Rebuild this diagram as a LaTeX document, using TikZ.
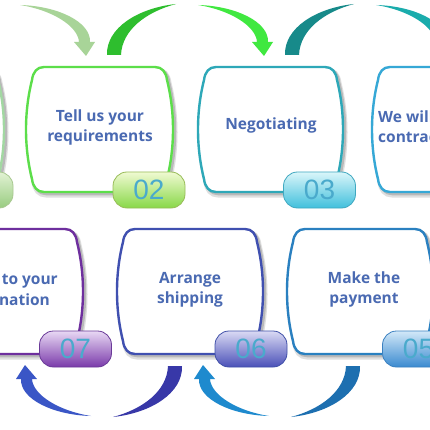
\documentclass[tikz,border=0pt]{standalone}
\usepackage{fontspec}
\setmainfont{Open Sans}
\newfontfamily\digfont{Liberation Sans}
\definecolor{cT}{HTML}{4A6AB2}
\definecolor{cD}{HTML}{4AAACC}
\definecolor{b01}{HTML}{A2D8A2}
\definecolor{b02}{HTML}{5CDE4A}
\definecolor{b03}{HTML}{2EA8B8}
\definecolor{b04}{HTML}{36A8D6}
\definecolor{b07}{HTML}{6E2F9E}
\definecolor{b06}{HTML}{4050B0}
\definecolor{b05}{HTML}{2A80C0}
\definecolor{a1}{HTML}{A8D498}
\definecolor{t2}{HTML}{2EBE2E}
\definecolor{a3}{HTML}{40E840}
\definecolor{t4}{HTML}{178A8A}
\definecolor{a5}{HTML}{1AACAC}
\definecolor{a9}{HTML}{1E8ACE}
\definecolor{t6}{HTML}{3838A8}
\definecolor{a7}{HTML}{3A56C6}
\definecolor{t8}{HTML}{1D6FB0}
\definecolor{g1d}{HTML}{A8C890}\definecolor{g1t}{HTML}{E2F2D4}\definecolor{g1b}{HTML}{98CC80}
\definecolor{g2d}{HTML}{98BC58}\definecolor{g2t}{HTML}{F0FAD2}\definecolor{g2b}{HTML}{88D848}
\definecolor{g3d}{HTML}{40A8C0}\definecolor{g3t}{HTML}{DAF6FA}\definecolor{g3b}{HTML}{40C0DC}
\definecolor{g7d}{HTML}{6A3A98}\definecolor{g7t}{HTML}{E8D8F4}\definecolor{g7b}{HTML}{7A3AAA}
\definecolor{g6d}{HTML}{4050A8}\definecolor{g6t}{HTML}{DADAF4}\definecolor{g6b}{HTML}{4A50B8}
\definecolor{g5d}{HTML}{3A80C0}\definecolor{g5t}{HTML}{D2E8F8}\definecolor{g5b}{HTML}{3A8AD0}
% barrel box: left L, top T, right R, bottom B (L, R = widest points)
\newcommand\brlbox[5]{%
  \draw[#5] ({#1+18},#2) -- ({#3-18},#2)
    .. controls ({#3-11},#2) and ({#3-7},{#2+5}) .. ({#3-6},{#2+13})
    .. controls ({#3+2},{#2+45}) and ({#3+2},{#4-45}) .. ({#3-6},{#4-13})
    .. controls ({#3-7},{#4-5}) and ({#3-11},#4) .. ({#3-18},#4)
    -- ({#1+18},#4)
    .. controls ({#1+11},#4) and ({#1+7},{#4-5}) .. ({#1+6},{#4-13})
    .. controls ({#1-2},{#4-45}) and ({#1-2},{#2+45}) .. ({#1+6},{#2+13})
    .. controls ({#1+7},{#2+5}) and ({#1+11},#2) .. ({#1+18},#2) -- cycle;}
\newcommand\fullbox[5]{%
  \brlbox{#1}{#2}{#3}{#4}{shadowA, shift={(2,3)}}%
  \brlbox{#1}{#2}{#3}{#4}{shadowB, shift={(2,2)}}%
  \brlbox{#1}{#2}{#3}{#4}{boxline, draw=#5}}
\newcommand\arrA[1]{\fill[#1] (20,5) .. controls (58,6) and (91,22) .. (90,42)
  -- (95,42) -- (86,56) -- (74,42) -- (79,42) .. controls (78,26) and (52,10) .. (20,5) -- cycle;}
\newcommand\tailT[1]{\fill[#1] (107,55) .. controls (106,28) and (138,8) .. (176,4)
  .. controls (146,12) and (122,30) .. (121,55) -- cycle;}
\begin{document}
\begin{tikzpicture}[x=1pt,y=-1pt,
  boxline/.style={line width=2.4pt, fill=white},
  shadowA/.style={draw=gray!25, line width=5pt},
  shadowB/.style={draw=gray!55, line width=2.5pt},
  lab/.style={font=\fontsize{15.5}{20}\selectfont\bfseries, text=cT, align=center, inner sep=0pt},
  badge/.style={rounded corners=14pt, minimum width=72pt, minimum height=36pt, inner sep=0pt,
    line width=0.8pt, text=cD, font=\digfont\fontsize{28}{28}\selectfont},
  rot/.style={rotate around={180:(144.5,210.5)}}]
\useasboundingbox (0,0) rectangle (430,430);
\clip (0,0) rectangle (430,430);
\fill[white] (0,0) rectangle (430,430);
% top arrows
\arrA{a1}
\tailT{t2}
\arrA{a3, shift={(178,0)}}
\tailT{t4, shift={(178,0)}}
\arrA{a5, shift={(356,0)}}
% bottom arrows
\arrA{a9, rot}
\tailT{t6, rot}
\arrA{a7, rot, shift={(178,0)}}
\tailT{t8, rot, shift={(-178,0)}}
% boxes top
\fullbox{-142}{67}{4}{192}{b01}
\fullbox{26}{67}{173}{192}{b02}
\fullbox{198}{67}{343}{192}{b03}
\fullbox{372}{67}{519}{192}{b04}
% boxes bottom
\fullbox{-63}{229}{83}{354}{b07}
\fullbox{117}{229}{263}{354}{b06}
\fullbox{287}{229}{433}{354}{b05}
% texts
\node[lab] (x02) at (100,127) {Tell us your\\requirements};
\node[lab] (x03) at (271,125) {Negotiating};
\node[lab, anchor=west] (x04a) at (378,117) {We will};
\node[lab, anchor=west] (x04b) at (378,137) {contract};
\node[lab, anchor=east] (x07a) at (58,280) {Deliver to your};
\node[lab, anchor=east] (x07b) at (50,300) {destination};
\node[lab] (x06) at (190,290) {Arrange\\shipping};
\node[lab] (x05) at (364,289) {Make the\\payment};
% badges
\node[badge, draw=g1d, top color=g1t, bottom color=g1b] (n01) at (-23,190) {01};
\node[badge, draw=g2d, top color=g2t, bottom color=g2b] (n02) at (149,190) {02};
\node[badge, draw=g3d, top color=g3t, bottom color=g3b] (n03) at (319.5,190) {03};
\node[badge, draw=g7d, top color=g7t, bottom color=g7b] (n07) at (75.5,349) {07};
\node[badge, draw=g6d, top color=g6t, bottom color=g6b] (n06) at (251,349) {06};
\node[badge, draw=g5d, top color=g5t, bottom color=g5b] (n05) at (418.5,349) {05};
\end{tikzpicture}
\end{document}
